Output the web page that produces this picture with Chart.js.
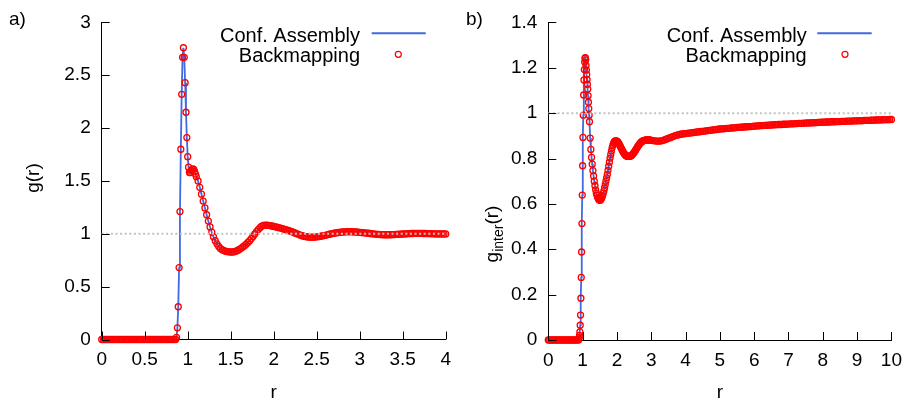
<!DOCTYPE html>
<html><head><meta charset="utf-8">
<script src="https://cdn.jsdelivr.net/npm/chart.js@4.4.1/dist/chart.umd.min.js"></script>
<style>
html,body{margin:0;padding:0;background:#fff;}
#wrap{position:relative;width:911px;height:403px;overflow:hidden;background:#fff;}
canvas{position:absolute;top:0;}
</style></head><body>
<div id="wrap">
<canvas id="ca" width="460" height="403" style="left:0px"></canvas>
<canvas id="cb" width="451" height="403" style="left:460px"></canvas>
</div>
<script>
const FONT = '"Liberation Sans", Arial, Helvetica, sans-serif';
const seriesNames = ['Conf. Assembly', 'Backmapping'];
const referenceLevel = 1;

const leftXTicks = [0, 0.5, 1, 1.5, 2, 2.5, 3, 3.5, 4];
const leftYTicks = [0, 0.5, 1, 1.5, 2, 2.5, 3];
const rightXTicks = [0, 1, 2, 3, 4, 5, 6, 7, 8, 9, 10];
const rightYTicks = [0, 0.2, 0.4, 0.6, 0.8, 1, 1.2, 1.4];

// panel a) g(r)
const leftR = [
0,0.02,0.04,0.06,0.08,0.1,0.12,0.14,0.16,0.18,0.2,0.22,0.24,0.26,0.28,0.3,0.32,0.34,0.36,0.38,0.4,0.42,0.44,0.46,0.48,0.5,0.52,0.54,0.56,0.58,0.6,0.62,0.64,0.66,0.68,0.7,0.72,0.74,0.76,0.78,0.8,0.82,0.84,0.86,
0.87,0.88,0.89,0.9,0.91,0.92,0.93,0.94,0.95,0.96,0.97,0.98,0.99,1,1.01,1.02,1.03,1.04,1.05,1.06,1.07,1.08,1.09,1.1,
1.12,1.14,1.16,1.18,1.2,1.22,1.24,1.26,1.28,1.3,
1.32,1.34,1.36,1.38,1.4,1.42,1.44,1.46,1.48,1.5,
1.52,1.54,1.56,1.58,1.6,1.62,1.64,1.66,1.68,1.7,
1.72,1.74,1.76,1.78,1.8,1.82,1.84,1.86,1.88,1.9,
1.92,1.94,1.96,1.98,2,2.02,2.04,2.06,2.08,2.1,
2.12,2.14,2.16,2.18,2.2,2.22,2.24,2.26,2.28,2.3,
2.32,2.34,2.36,2.38,2.4,2.42,2.44,2.46,2.48,2.5,
2.52,2.54,2.56,2.58,2.6,2.62,2.64,2.66,2.68,2.7,
2.72,2.74,2.76,2.78,2.8,2.82,2.84,2.86,2.88,2.9,
2.92,2.94,2.96,2.98,3,3.02,3.04,3.06,3.08,3.1,
3.12,3.14,3.16,3.18,3.2,3.22,3.24,3.26,3.28,3.3,
3.32,3.34,3.36,3.38,3.4,3.42,3.44,3.46,3.48,3.5,
3.52,3.54,3.56,3.58,3.6,3.62,3.64,3.66,3.68,3.7,
3.72,3.74,3.76,3.78,3.8,3.82,3.84,3.86,3.88,3.9,
3.92,3.94,3.96,3.98,4
];
const leftG = [
0,0,0,0,0,0,0,0,0,0,0,0,0,0,0,0,0,0,0,0,0,0,0,0,0,0,0,0,0,0,0,0,0,0,0,0,0,0,0,0,0,0,0,0,
0.02,0.11,0.31,0.68,1.21,1.80,2.32,2.67,2.76,2.67,2.43,2.15,1.91,1.73,1.63,1.58,1.58,1.60,1.61,1.615,1.61,1.59,1.565,1.54,
1.50,1.44,1.375,1.31,1.245,1.18,1.12,1.065,1.015,0.97,
0.935,0.905,0.88,0.862,0.85,0.841,0.835,0.831,0.829,0.828,
0.828,0.83,0.835,0.843,0.852,0.863,0.875,0.888,0.902,0.918,
0.935,0.955,0.975,0.998,1.02,1.04,1.058,1.072,1.08,1.083,
1.082,1.08,1.077,1.074,1.07,1.066,1.062,1.058,1.054,1.049,
1.044,1.039,1.034,1.029,1.023,1.017,1.011,1.004,0.997,0.99,
0.984,0.979,0.975,0.972,0.97,0.968,0.968,0.968,0.969,0.971,
0.973,0.976,0.979,0.982,0.986,0.99,0.994,0.998,1.002,1.005,
1.008,1.011,1.013,1.015,1.017,1.018,1.019,1.02,1.02,1.02,
1.019,1.018,1.017,1.016,1.014,1.012,1.011,1.009,1.007,1.005,
1.003,1.001,0.999,0.997,0.995,0.994,0.993,0.992,0.991,0.991,
0.991,0.991,0.991,0.992,0.993,0.994,0.995,0.996,0.997,0.998,
0.999,1.0,1.001,1.002,1.003,1.003,1.004,1.004,1.004,1.004,
1.004,1.003,1.003,1.002,1.002,1.001,1.001,1.0,1.0,0.999,
0.999,0.999,0.999,0.999,0.999
];

// panel b) g_inter(r)
const rightR = [
0,0.04,0.08,0.12,0.16,0.2,0.24,0.28,0.32,0.36,0.4,0.44,0.48,0.52,0.56,0.6,0.64,0.68,0.72,0.76,0.8,0.84,0.88,
0.89,0.9,0.91,0.92,0.93,0.94,0.95,0.96,0.97,0.98,0.99,1,1.01,1.02,1.03,1.04,1.05,1.06,1.07,1.08,1.09,1.1,1.11,1.12,1.13,1.14,1.15,1.16,1.17,1.18,1.19,1.2,
1.22,1.24,1.26,1.28,1.3,1.32,1.34,1.36,1.38,1.4,
1.42,1.44,1.46,1.48,1.5,1.52,1.54,1.56,1.58,1.6,
1.62,1.64,1.66,1.68,1.7,1.72,1.74,1.76,1.78,1.8,
1.82,1.84,1.86,1.88,1.9,1.92,1.94,1.96,1.98,2,
2.02,2.04,2.06,2.08,2.1,2.12,2.14,2.16,2.18,2.2,
2.22,2.24,2.26,2.28,2.3,2.32,2.34,2.36,2.38,2.4,
2.42,2.44,2.46,2.48,2.5,2.52,2.54,2.56,2.58,2.6,
2.62,2.64,2.66,2.68,2.7,2.72,2.74,2.76,2.78,2.8,
2.82,2.84,2.86,2.88,2.9,2.92,2.94,2.96,2.98,3,
3.05,3.1,3.15,3.2,3.25,3.3,3.35,3.4,3.45,3.5,
3.55,3.6,3.65,3.7,3.75,3.8,3.85,3.9,3.95,4,
4.05,4.1,4.15,4.2,4.25,4.3,4.35,4.4,4.45,4.5,
4.55,4.6,4.65,4.7,4.75,4.8,4.85,4.9,4.95,5,
5.05,5.1,5.15,5.2,5.25,5.3,5.35,5.4,5.45,5.5,
5.55,5.6,5.65,5.7,5.75,5.8,5.85,5.9,5.95,6,
6.05,6.1,6.15,6.2,6.25,6.3,6.35,6.4,6.45,6.5,
6.55,6.6,6.65,6.7,6.75,6.8,6.85,6.9,6.95,7,
7.05,7.1,7.15,7.2,7.25,7.3,7.35,7.4,7.45,7.5,
7.55,7.6,7.65,7.7,7.75,7.8,7.85,7.9,7.95,8,
8.05,8.1,8.15,8.2,8.25,8.3,8.35,8.4,8.45,8.5,
8.55,8.6,8.65,8.7,8.75,8.8,8.85,8.9,8.95,9,
9.05,9.1,9.15,9.2,9.25,9.3,9.35,9.4,9.45,9.5,
9.55,9.6,9.65,9.7,9.75,9.8,9.85,9.9,9.95,10
];
const rightG = [
0,0,0,0,0,0,0,0,0,0,0,0,0,0,0,0,0,0,0,0,0,0,0,
0.003,0.01,0.02,0.036,0.065,0.11,0.184,0.276,0.388,0.513,0.639,0.768,0.893,0.991,1.08,1.146,1.192,1.225,1.242,1.245,1.235,1.21,1.19,1.17,1.148,1.127,1.106,1.077,1.048,1.02,0.991,0.962,
0.89,0.84,0.805,0.775,0.747,0.723,0.70,0.68,0.662,0.647,
0.637,0.628,0.622,0.618,0.616,0.617,0.62,0.627,0.636,0.646,
0.657,0.67,0.685,0.70,0.715,0.73,0.748,0.766,0.784,0.802,
0.818,0.833,0.847,0.858,0.867,0.873,0.877,0.878,0.878,0.877,
0.874,0.87,0.865,0.859,0.853,0.847,0.841,0.835,0.829,0.824,
0.82,0.816,0.813,0.811,0.81,0.809,0.809,0.809,0.81,0.811,
0.813,0.816,0.819,0.823,0.827,0.831,0.836,0.841,0.846,0.851,
0.856,0.86,0.864,0.868,0.871,0.874,0.876,0.878,0.879,0.88,
0.881,0.881,0.882,0.882,0.882,0.882,0.882,0.881,0.881,0.88,
0.879,0.878,0.877,0.877,0.877,0.878,0.88,0.883,0.886,0.889,
0.892,0.895,0.898,0.901,0.903,0.905,0.907,0.908,0.909,0.91,
0.911,0.912,0.913,0.914,0.915,0.916,0.917,0.918,0.919,0.92,
0.921,0.922,0.923,0.924,0.925,0.926,0.927,0.928,0.929,0.93,
0.931,0.931,0.932,0.933,0.933,0.934,0.935,0.935,0.936,0.937,
0.937,0.938,0.938,0.939,0.94,0.94,0.941,0.941,0.942,0.943,
0.943,0.944,0.944,0.945,0.945,0.946,0.946,0.947,0.947,0.948,
0.948,0.949,0.949,0.95,0.95,0.95,0.951,0.951,0.952,0.952,
0.953,0.953,0.953,0.954,0.954,0.955,0.955,0.955,0.956,0.956,
0.957,0.957,0.957,0.958,0.958,0.958,0.959,0.959,0.96,0.96,
0.96,0.961,0.961,0.961,0.962,0.962,0.962,0.963,0.963,0.963,
0.964,0.964,0.964,0.965,0.965,0.965,0.965,0.966,0.966,0.966,
0.967,0.967,0.967,0.968,0.968,0.968,0.968,0.969,0.969,0.969,
0.97,0.97,0.97,0.97,0.971,0.971,0.971,0.971,0.972,0.972
];

const BLUE = '#4169e1';
const RED = '#ff0000';

function pts(R, G) { return R.map((r, i) => ({ x: r, y: G[i] })); }

function makePlugin(o) {
  return {
    id: 'gnu_' + o.id,
    afterDraw(chart) {
      const ctx = chart.ctx, a = chart.chartArea, xs = chart.scales.x, ys = chart.scales.y;
      ctx.save();
      // inward ticks
      ctx.strokeStyle = '#000'; ctx.lineWidth = 1; ctx.beginPath();
      xs.ticks.forEach(t => { const p = Math.round(xs.getPixelForValue(t.value)) + 0.5; ctx.moveTo(p, a.bottom); ctx.lineTo(p, a.bottom - 8); });
      ys.ticks.forEach(t => { const p = Math.round(ys.getPixelForValue(t.value)) + 0.5; ctx.moveTo(a.left, p); ctx.lineTo(a.left + 8, p); });
      ctx.stroke();
      ctx.fillStyle = '#000';
      // panel label
      ctx.font = '19px ' + FONT; ctx.textAlign = 'left'; ctx.textBaseline = 'alphabetic';
      ctx.fillText(o.panel, o.panelX, 25);
      // x title
      ctx.font = '19px ' + FONT; ctx.textAlign = 'center';
      ctx.fillText('r', (a.left + a.right) / 2, 398);
      // y title (rotated)
      ctx.save();
      ctx.translate(o.yTitleX, o.yTitleY);
      ctx.rotate(-Math.PI / 2);
      ctx.textBaseline = 'alphabetic';
      if (o.sub) {
        ctx.font = '19px ' + FONT;
        const w1 = ctx.measureText(o.yTitle).width;
        ctx.font = '14px ' + FONT;
        const w2 = ctx.measureText(o.sub).width;
        ctx.font = '19px ' + FONT;
        const w3 = ctx.measureText(o.yTitleEnd).width;
        let x0 = -(w1 + w2 + w3) / 2;
        ctx.textAlign = 'left';
        ctx.fillText(o.yTitle, x0, 0);
        ctx.font = '14px ' + FONT;
        ctx.fillText(o.sub, x0 + w1, 5);
        ctx.font = '19px ' + FONT;
        ctx.fillText(o.yTitleEnd, x0 + w1 + w2, 0);
      } else {
        ctx.font = '19px ' + FONT; ctx.textAlign = 'center';
        ctx.fillText(o.yTitle, 0, 0);
      }
      ctx.restore();
      // legend
      ctx.font = '20px ' + FONT; ctx.textAlign = 'right'; ctx.textBaseline = 'alphabetic';
      ctx.fillText(seriesNames[0], o.legTextX, 41.5);
      ctx.fillText(seriesNames[1], o.legTextX, 61.7);
      ctx.strokeStyle = BLUE; ctx.lineWidth = 2; ctx.beginPath();
      ctx.moveTo(o.legLine0, 33.3); ctx.lineTo(o.legLine1, 33.3); ctx.stroke();
      ctx.strokeStyle = RED; ctx.lineWidth = 1.2; ctx.beginPath();
      ctx.arc(o.legCircle, 54.3, 3, 0, Math.PI * 2); ctx.stroke();
      ctx.restore();
    }
  };
}

function build(id, o) {
  const data = pts(o.R, o.G);
  const W = o.W;
  return new Chart(document.getElementById(id), {
    type: 'scatter',
    data: {
      datasets: [
        { label: 'ref', data: [{ x: o.xMin, y: referenceLevel }, { x: o.xMax, y: referenceLevel }], showLine: true,
          borderColor: '#c2c2c2', borderWidth: 2, borderDash: [2, 2.6], pointRadius: 0, order: 0, clip: false },
        { label: seriesNames[1], data: data, showLine: false, pointRadius: 3, pointBorderWidth: 1.3,
          pointBorderColor: RED, borderColor: RED, pointBackgroundColor: 'rgba(0,0,0,0)', backgroundColor: 'rgba(0,0,0,0)', order: 1, clip: false },
        { label: seriesNames[0], data: data, showLine: true, borderColor: BLUE, borderWidth: 1.8, pointRadius: 0, order: 2, clip: false }
      ]
    },
    options: {
      responsive: false, animation: false, events: [],
      layout: { padding: { left: 0, top: o.top, right: W - o.right, bottom: 0 } },
      plugins: { legend: { display: false }, tooltip: { enabled: false } },
      scales: {
        x: {
          type: 'linear', min: o.xMin, max: o.xMax,
          afterFit: s => { s.height = 403 - o.bottom; },
          afterBuildTicks: s => { s.ticks = o.xTicks.map(v => ({ value: v })); },
          ticks: { font: { family: FONT, size: 19 }, color: '#000', padding: 9, maxRotation: 0, autoSkip: false, callback: v => String(v) },
          grid: { display: false, drawTicks: false },
          border: { display: true, color: '#000', width: 1 }
        },
        y: {
          type: 'linear', min: o.yMin, max: o.yMax,
          afterFit: s => { s.width = o.left; },
          afterBuildTicks: s => { s.ticks = o.yTicks.map(v => ({ value: v })); },
          ticks: { font: { family: FONT, size: 19 }, color: '#000', padding: 11, autoSkip: false, callback: v => String(v) },
          grid: { display: false, drawTicks: false },
          border: { display: true, color: '#000', width: 1 }
        }
      }
    },
    plugins: [makePlugin(o)]
  });
}

build('ca', {
  id: 'a', W: 460, R: leftR, G: leftG, xMin: 0, xMax: 4, yMin: 0, yMax: 3,
  xTicks: leftXTicks, yTicks: leftYTicks,
  left: 101.7, right: 447.3, top: 16, bottom: 339.5,
  panel: 'a)', panelX: 9, yTitle: 'g(r)', yTitleX: 39, yTitleY: 178,
  legTextX: 360, legLine0: 371.7, legLine1: 425.7, legCircle: 398.3
});
build('cb', {
  id: 'b', W: 451, R: rightR, G: rightG, xMin: 0, xMax: 10, yMin: 0, yMax: 1.4,
  xTicks: rightXTicks, yTicks: rightYTicks,
  left: 88.3, right: 434.3, top: 15, bottom: 340,
  panel: 'b)', panelX: 6, yTitle: 'g', sub: 'inter', yTitleEnd: '(r)', yTitleX: 38, yTitleY: 234,
  legTextX: 346.7, legLine0: 357.3, legLine1: 411.7, legCircle: 385
});
</script>
</body></html>
